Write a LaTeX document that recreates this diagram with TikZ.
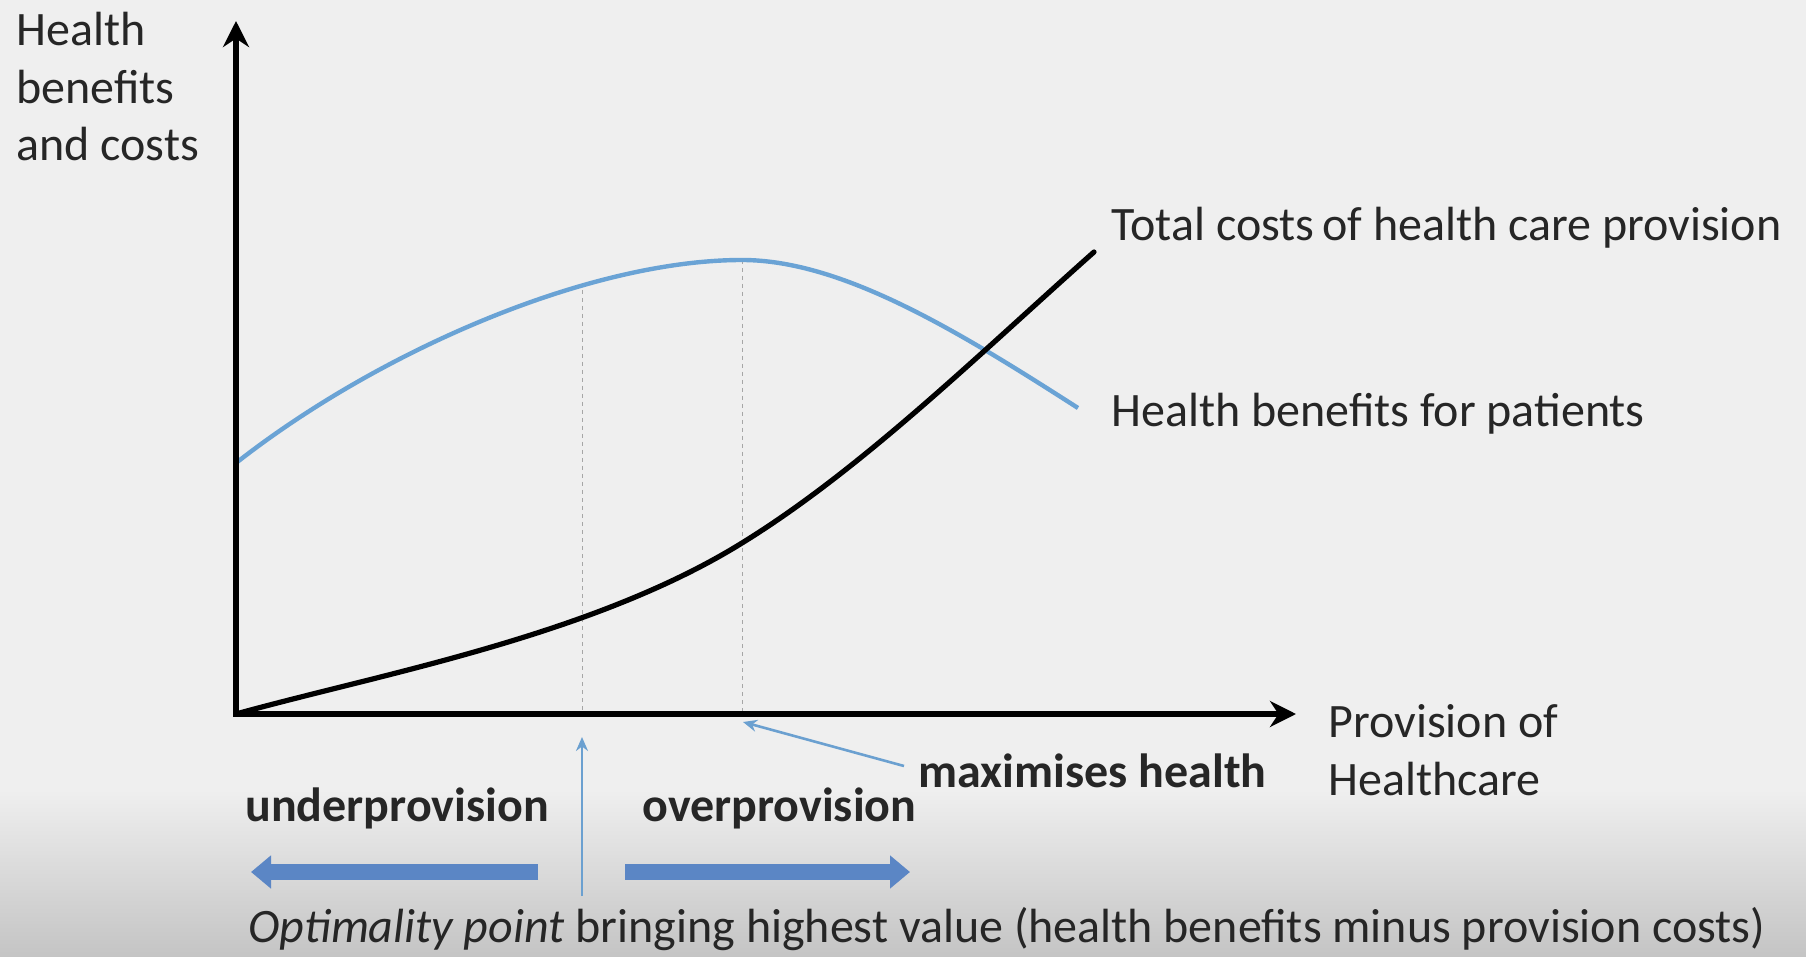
\documentclass[tikz,border=0pt]{standalone}
\usepackage{fontspec}
\setmainfont{Carlito}
\usetikzlibrary{arrows.meta}
\definecolor{bg}{HTML}{EFEFEF}
\definecolor{bgdark}{HTML}{C4C4C4}
\definecolor{benefit}{HTML}{6AA3D5}
\definecolor{thinblue}{HTML}{6BA0D0}
\definecolor{fatblue}{HTML}{5B86C5}
\definecolor{txt}{HTML}{262626}
\tikzset{
  lbl/.style={inner sep=0pt, text=txt, font=\fontsize{24}{28.8}\selectfont},
  blbl/.style={lbl, font=\fontsize{24}{28.8}\selectfont\bfseries},
  axis/.style={line width=3pt, -{Stealth[length=13pt,width=13pt]}},
  guide/.style={gray!70, line width=0.5pt, dash pattern=on 2pt off 2pt},
  thinarrow/.style={thinblue, line width=1.3pt, -{Stealth[length=7pt,width=6pt]}},
  fatarrow/.style={fatblue, line width=8pt, -{Triangle[length=10pt,width=16pt]}},
}
\begin{document}
\begin{tikzpicture}[x=0.5pt,y=-0.5pt]
\useasboundingbox (0,0) rectangle (1806,957);
\fill[bg] (0,0) rectangle (1806,957);
\shade[top color=bg, bottom color=bgdark] (0,790) rectangle (1806,957);

% named points
\coordinate (O) at (236,714);
\coordinate (ytip) at (236,21);
\coordinate (xtip) at (1296,714);
\coordinate (peak) at (742,260);
\coordinate (opt) at (582,290);
\coordinate (optx) at (582,714);
\coordinate (peakx) at (742,714);

% guides
\draw[guide] (opt) -- (optx);
\draw[guide] (peak) -- (peakx);

% curves
\draw[benefit, line width=2.2pt] (236,463) .. controls (380,350) and (590,260) .. (peak)
      .. controls (842,260) and (958,331) .. (1078,408);
\draw[black, line width=2.6pt, line cap=round] (O) .. controls (380,674) and (592,636) .. (742,543)
      .. controls (862,469) and (978,355) .. (1094,252);

% axes
\draw[axis] (236,716) -- (ytip);
\draw[axis] (233,714) -- (xtip);

% labels
\node[lbl, anchor=north west, align=left] (ylab) at (16,12) {Health\\benefits\\and costs};
\node[lbl, anchor=mid west] (costlab) at (1111,236) {Total costs\,of health care provision};
\node[lbl, anchor=mid west] (benlab) at (1111,422) {Health benefits for patients};
\node[lbl, anchor=north west, align=left] (xlab) at (1328,704) {Provision of\\Healthcare};
\node[blbl, anchor=mid west] (maxlab) at (918,783) {maximises health};
\node[blbl, anchor=mid west] (underlab) at (245,817) {underprovision};
\node[blbl, anchor=mid west] (overlab) at (642,817) {overprovision};
\node[lbl, anchor=mid west] (optlab) at (248,938) {\textit{Optimality point} bringing highest value (health benefits minus provision costs)};

% arrows
\coordinate (maxfrom) at (904,766);
\coordinate (maxto) at (743,722);
\draw[thinarrow] (maxfrom) -- (maxto);
\coordinate (optbot) at (582,896);
\coordinate (opttop) at (582,737);
\draw[thinarrow] (optbot) -- (opttop);
\coordinate (ul1) at (538,872);
\coordinate (ul2) at (251,872);
\coordinate (ov1) at (625,872);
\coordinate (ov2) at (910,872);
\draw[fatarrow] (ul1) -- (ul2);
\draw[fatarrow] (ov1) -- (ov2);
\end{tikzpicture}
\end{document}
